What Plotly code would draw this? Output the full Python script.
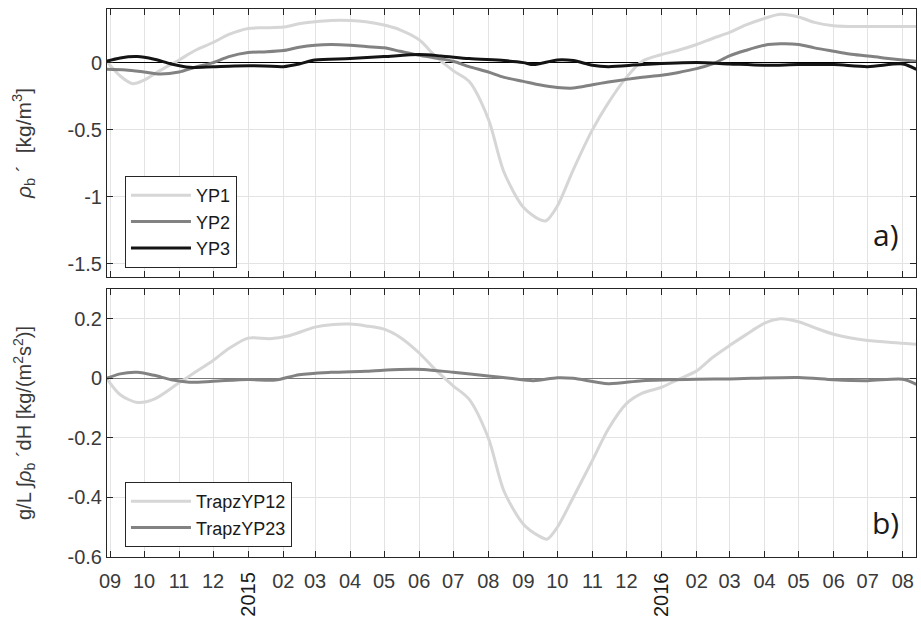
import plotly.graph_objects as go

# ---------------- data ----------------
yp1_dates = ["2014-08-29", "2014-09-10", "2014-09-21", "2014-10-01", "2014-10-15", "2014-11-01",
             "2014-11-15", "2014-12-01", "2014-12-15", "2015-01-01", "2015-01-15", "2015-02-01",
             "2015-02-15", "2015-03-01", "2015-03-15", "2015-04-01", "2015-04-15", "2015-05-01",
             "2015-05-15", "2015-06-01", "2015-06-15", "2015-07-01", "2015-07-15", "2015-08-01",
             "2015-08-15", "2015-09-01", "2015-09-15", "2015-09-21", "2015-10-01", "2015-10-15",
             "2015-11-01", "2015-11-15", "2015-12-01", "2015-12-15", "2016-01-01", "2016-01-15",
             "2016-02-01", "2016-02-15", "2016-03-01", "2016-03-15", "2016-04-01", "2016-04-15",
             "2016-05-01", "2016-05-15", "2016-06-01", "2016-06-15", "2016-07-01", "2016-08-01",
             "2016-08-13"]
yp1 = [0.01, -0.10, -0.157, -0.13, -0.06, 0.02,
       0.09, 0.15, 0.21, 0.255, 0.26, 0.265,
       0.29, 0.305, 0.315, 0.315, 0.305, 0.28,
       0.245, 0.17, 0.05, -0.06, -0.14, -0.42,
       -0.82, -1.08, -1.17, -1.18, -1.07, -0.80,
       -0.50, -0.30, -0.11, 0.01, 0.06, 0.09,
       0.135, 0.18, 0.225, 0.28, 0.33, 0.36,
       0.34, 0.30, 0.275, 0.27, 0.27, 0.27,
       0.27]

yp2_dates = ["2014-08-29", "2014-09-15", "2014-10-01", "2014-10-15", "2014-11-01", "2014-11-15",
             "2014-12-01", "2014-12-15", "2015-01-01", "2015-01-15", "2015-02-01", "2015-02-15",
             "2015-03-01", "2015-03-15", "2015-04-01", "2015-04-15", "2015-05-01", "2015-05-15",
             "2015-06-01", "2015-06-15", "2015-07-01", "2015-07-15", "2015-08-01", "2015-08-15",
             "2015-09-01", "2015-09-15", "2015-10-01", "2015-10-15", "2015-11-01", "2015-11-15",
             "2015-12-01", "2015-12-15", "2016-01-01", "2016-01-15", "2016-02-01", "2016-02-15",
             "2016-03-01", "2016-03-15", "2016-04-01", "2016-04-15", "2016-05-01", "2016-05-15",
             "2016-06-01", "2016-06-15", "2016-07-01", "2016-07-15", "2016-08-01", "2016-08-13"]
yp2 = [-0.05, -0.055, -0.07, -0.085, -0.07, -0.035,
       0.0, 0.045, 0.075, 0.08, 0.09, 0.115,
       0.13, 0.135, 0.13, 0.12, 0.11, 0.085,
       0.055, 0.035, 0.01, -0.03, -0.07, -0.11,
       -0.14, -0.165, -0.185, -0.19, -0.165, -0.145,
       -0.125, -0.11, -0.095, -0.075, -0.045, -0.01,
       0.05, 0.09, 0.13, 0.14, 0.135, 0.11,
       0.085, 0.065, 0.05, 0.035, 0.02, 0.01]

yp3_dates = ["2014-08-29", "2014-09-10", "2014-09-25", "2014-10-10", "2014-10-25", "2014-11-10",
             "2014-12-01", "2014-12-20", "2015-01-15", "2015-02-01", "2015-02-15", "2015-03-01",
             "2015-04-01", "2015-05-01", "2015-06-01", "2015-06-20", "2015-07-15", "2015-08-15",
             "2015-09-01", "2015-09-10", "2015-10-01", "2015-10-15", "2015-11-01", "2015-11-15",
             "2015-12-15", "2016-02-01", "2016-03-01", "2016-04-01", "2016-05-01", "2016-06-01",
             "2016-07-01", "2016-08-01", "2016-08-13"]
yp3 = [0.01, 0.035, 0.045, 0.025, -0.01, -0.035,
       -0.03, -0.025, -0.025, -0.03, -0.01, 0.02,
       0.03, 0.045, 0.06, 0.05, 0.03, 0.015,
       0.0, -0.015, 0.02, 0.015, -0.02, -0.03,
       -0.015, 0.0, -0.01, -0.02, -0.015, -0.015,
       -0.03, -0.01, -0.05]

t12_dates = ["2014-08-29", "2014-09-10", "2014-09-25", "2014-10-10", "2014-11-01", "2014-11-15",
             "2014-12-01", "2014-12-15", "2015-01-01", "2015-01-20", "2015-02-05", "2015-03-01",
             "2015-03-15", "2015-04-01", "2015-04-15", "2015-05-01", "2015-05-15", "2015-06-01",
             "2015-06-15", "2015-07-01", "2015-07-15", "2015-08-01", "2015-08-15", "2015-09-01",
             "2015-09-15", "2015-09-22", "2015-10-01", "2015-10-15", "2015-11-01", "2015-11-15",
             "2015-12-01", "2015-12-15", "2016-01-01", "2016-01-15", "2016-02-01", "2016-02-15",
             "2016-03-01", "2016-03-15", "2016-04-01", "2016-04-15", "2016-05-01", "2016-05-15",
             "2016-06-01", "2016-06-15", "2016-07-01", "2016-08-01", "2016-08-13"]
trapz12 = [0.0, -0.055, -0.081, -0.07, -0.015, 0.02,
           0.06, 0.10, 0.135, 0.133, 0.142, 0.172,
           0.18, 0.182, 0.176, 0.165, 0.138, 0.085,
           0.03, -0.025, -0.07, -0.20, -0.38, -0.49,
           -0.53, -0.54, -0.50, -0.40, -0.275, -0.17,
           -0.085, -0.05, -0.03, -0.005, 0.025, 0.07,
           0.11, 0.145, 0.185, 0.20, 0.19, 0.17,
           0.148, 0.136, 0.127, 0.118, 0.114]

t23_dates = ["2014-08-29", "2014-09-10", "2014-09-25", "2014-10-10", "2014-10-25", "2014-11-10",
             "2014-12-01", "2015-01-01", "2015-01-25", "2015-02-15", "2015-03-15", "2015-04-15",
             "2015-05-15", "2015-06-05", "2015-07-01", "2015-08-01", "2015-08-20", "2015-09-10",
             "2015-10-01", "2015-10-15", "2015-11-15", "2015-12-15", "2016-02-01", "2016-03-01",
             "2016-05-01", "2016-06-01", "2016-07-01", "2016-08-01", "2016-08-13"]
trapz23 = [0.0, 0.015, 0.02, 0.01, -0.005, -0.013,
           -0.01, -0.004, -0.006, 0.012, 0.02, 0.024,
           0.03, 0.03, 0.02, 0.008, 0.0, -0.008,
           0.002, 0.0, -0.018, -0.008, -0.003, -0.002,
           0.003, -0.005, -0.008, -0.003, -0.02]

month_ticks = ["2014-09-01", "2014-10-01", "2014-11-01", "2014-12-01", "2015-01-01", "2015-02-01",
               "2015-03-01", "2015-04-01", "2015-05-01", "2015-06-01", "2015-07-01", "2015-08-01",
               "2015-09-01", "2015-10-01", "2015-11-01", "2015-12-01", "2016-01-01", "2016-02-01",
               "2016-03-01", "2016-04-01", "2016-05-01", "2016-06-01", "2016-07-01", "2016-08-01"]
month_labels = ["09", "10", "11", "12", "", "02", "03", "04", "05", "06", "07", "08",
                "09", "10", "11", "12", "", "02", "03", "04", "05", "06", "07", "08"]
year_ticks = ["2015-01-01", "2016-01-01"]
year_labels = ["2015", "2016"]

ya_ticks = [0, -0.5, -1, -1.5]
ya_labels = ["0", "-0.5", "-1", "-1.5"]
yb_ticks = [0.2, 0, -0.2, -0.4, -0.6]
yb_labels = ["0.2", "0", "-0.2", "-0.4", "-0.6"]

# ---------------- styling ----------------
LIGHT = "#d6d6d6"
MID = "#828282"
DARK = "#141414"
AX = "#262626"
GRID = "#e3e3e3"
TXT = "#3a3a3a"
FONT = "Liberation Sans, Arial, sans-serif"
XRANGE = ["2014-08-29 08:00", "2016-08-12 16:00"]

fig = go.Figure()

def add(x, y, name, color, xa, ya, legend):
    fig.add_trace(go.Scatter(x=x, y=y, name=name, mode="lines",
                             line=dict(color=color, width=3, shape="spline", smoothing=0.8),
                             xaxis=xa, yaxis=ya, legend=legend))

add(yp1_dates, yp1, "YP1", LIGHT, "x", "y", "legend")
add(yp2_dates, yp2, "YP2", MID, "x", "y", "legend")
add(yp3_dates, yp3, "YP3", DARK, "x", "y", "legend")
add(t12_dates, trapz12, "TrapzYP12", LIGHT, "x2", "y2", "legend2")
add(t23_dates, trapz23, "TrapzYP23", MID, "x2", "y2", "legend2")

xcommon = dict(type="date", range=XRANGE, tickmode="array", tickvals=month_ticks,
               ticktext=month_labels,
               showgrid=True, gridcolor=GRID, gridwidth=1,
               showline=True, linecolor=AX, linewidth=1, mirror="ticks",
               ticks="inside", ticklen=6, tickcolor=AX, tickwidth=1,
               tickfont=dict(family=FONT, size=20, color=TXT), zeroline=False)
ycommon = dict(showgrid=True, gridcolor=GRID, gridwidth=1,
               showline=True, linecolor=AX, linewidth=1, mirror="ticks",
               ticks="inside", ticklen=6, tickcolor=AX, tickwidth=1,
               tickfont=dict(family=FONT, size=20, color=TXT),
               zeroline=True, zerolinewidth=1)

legend_common = dict(xanchor="left", yanchor="top", bgcolor="white", bordercolor=AX,
                     borderwidth=1, font=dict(family=FONT, size=18, color="#1a1a1a"),
                     itemwidth=60, tracegroupgap=0)

fig.update_layout(
    width=921, height=621,
    margin=dict(l=107, r=5, t=9, b=64),
    paper_bgcolor="white", plot_bgcolor="white",
    font=dict(family=FONT, size=20, color=TXT),
    xaxis=dict(xcommon, domain=[0, 1], anchor="y", showticklabels=False),
    xaxis2=dict(xcommon, domain=[0, 1], anchor="y2", matches="x", ticklabelstandoff=6),
    yaxis=dict(ycommon, domain=[0.5109, 1], anchor="x", range=[-1.6, 0.4],
               tickvals=ya_ticks, ticktext=ya_labels, zerolinecolor="#000000",
               title=dict(text="<i>ρ</i><sub>b</sub> ´  [kg/m<sup>3</sup>]",
                          font=dict(family=FONT, size=21, color=TXT), standoff=30)),
    yaxis2=dict(ycommon, domain=[0, 0.4891], anchor="x2", range=[-0.6, 0.3],
                tickvals=yb_ticks, ticktext=yb_labels, zerolinecolor="#7a7a7a",
                title=dict(text="g/L ∫<i>ρ</i><sub>b</sub> ´dH [kg/(m<sup>2</sup>s<sup>2</sup>)]",
                           font=dict(family=FONT, size=20, color=TXT), standoff=30)),
    legend=dict(legend_common, x=0.0222, y=0.6953),
    legend2=dict(legend_common, x=0.0222, y=0.1369),
    showlegend=True,
)

for xv, lab in zip(year_ticks, year_labels):
    fig.add_annotation(x=xv, y=-0.0237, xref="x2", yref="paper", text=lab, showarrow=False,
                       textangle=-90, xanchor="center", yanchor="top",
                       font=dict(family=FONT, size=20, color="#1a1a1a"))

fig.add_annotation(x=0.982, y=0.547, xref="paper", yref="paper", text="a)", showarrow=False,
                   xanchor="right", yanchor="bottom",
                   font=dict(family="Open Sans, sans-serif", size=30, color="#1a1a1a"))
fig.add_annotation(x=0.982, y=0.022, xref="paper", yref="paper", text="b)", showarrow=False,
                   xanchor="right", yanchor="bottom",
                   font=dict(family="Open Sans, sans-serif", size=30, color="#1a1a1a"))

fig.write_html("out.html")
